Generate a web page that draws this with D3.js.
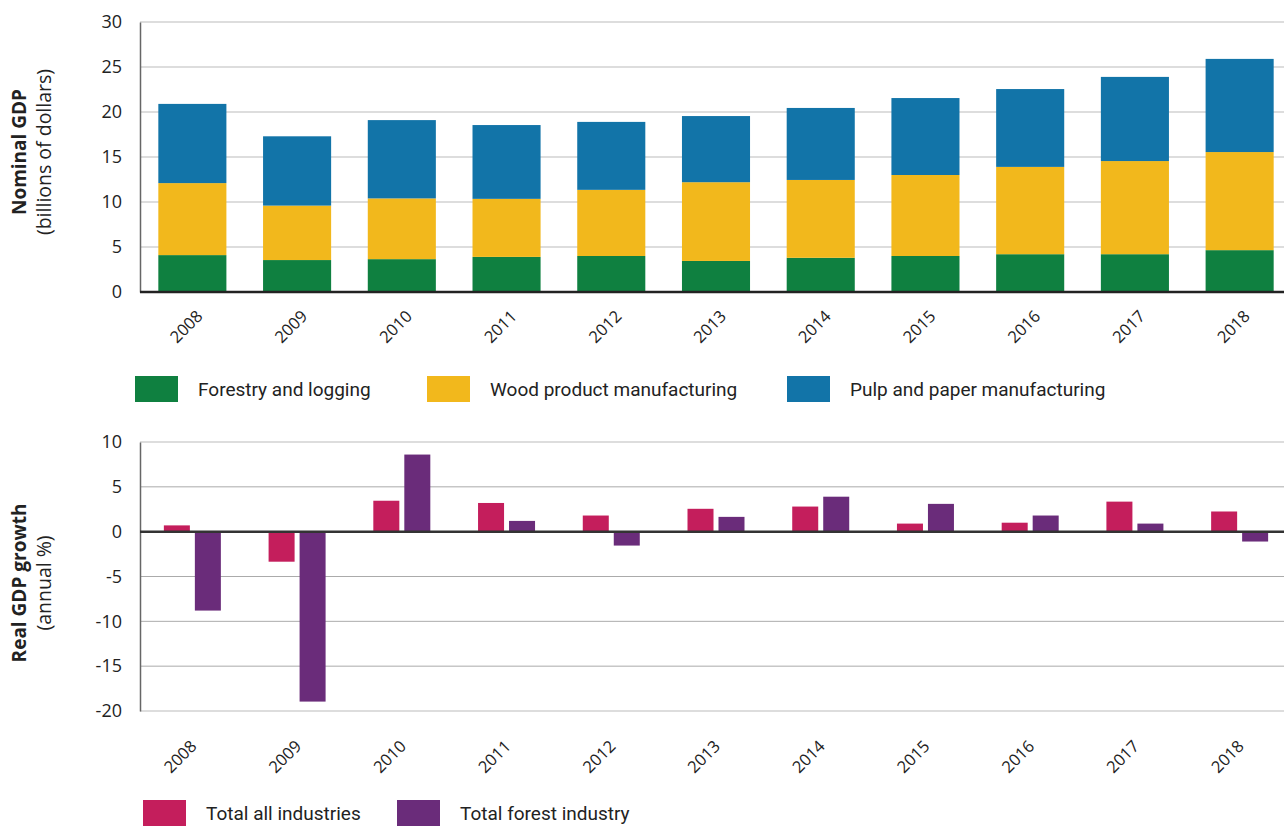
<!DOCTYPE html>
<html>
<head>
<meta charset="utf-8">
<script src="https://cdn.jsdelivr.net/npm/d3@7"></script>
<style>
  body { margin: 0; background: #fff; }
  svg { display: block; font-family: 'Open Sans', sans-serif; }
  .legend text { font-family: 'Roboto', sans-serif; }
</style>
</head>
<body>
<div id="chart"></div>
<script>
// years shared by both panels
const years = ['2008', '2009', '2010', '2011', '2012', '2013', '2014', '2015', '2016', '2017', '2018']

// nominal GDP, billions of dollars
const forestry = [4.1, 3.55, 3.65, 3.9, 4.0, 3.45, 3.8, 4.0, 4.2, 4.2, 4.65]
const woodProducts = [8.0, 6.05, 6.75, 6.45, 7.35, 8.75, 8.65, 9.0, 9.7, 10.35, 10.9]
const pulpPaper = [8.8, 7.7, 8.7, 8.2, 7.55, 7.35, 8.0, 8.55, 8.65, 9.35, 10.35]
const stackNames = ['Forestry and logging', 'Wood product manufacturing', 'Pulp and paper manufacturing']
const stackColors = ['#0f8040', '#f2b81c', '#1274a8']
const gdpTicks = [0, 5, 10, 15, 20, 25, 30]

// real GDP growth, annual %
const totalAll = [0.7, -3.35, 3.45, 3.2, 1.8, 2.55, 2.8, 0.9, 1.0, 3.35, 2.25]
const totalForest = [-8.8, -18.95, 8.6, 1.2, -1.55, 1.65, 3.9, 3.1, 1.8, 0.9, -1.1]
const growthNames = ['Total all industries', 'Total forest industry']
const growthColors = ['#c41e5c', '#6a2c7a']
const growthTicks = [-20, -15, -10, -5, 0, 5, 10]

const dimensions = {
  width: 1284,
  height: 827,
  left: 140,
  top: { y0: 22, y1: 292 },
  bottom: { y0: 442, y1: 711 }
}

const svg = d3.select('#chart').append('svg')
  .attr('width', dimensions.width)
  .attr('height', dimensions.height)

const xScale = d3.scaleBand()
  .domain(years)
  .range([dimensions.left, dimensions.left + 1152])
  .paddingInner(0.35)
  .paddingOuter(0.175)

// plain hyphen for negatives, like the original
const tickFormat = d => String(d).replace('\u2212', '-')

//
// top panel: stacked bars
//
const stackRows = years.map((y, i) => ({
  year: y,
  [stackNames[0]]: forestry[i],
  [stackNames[1]]: woodProducts[i],
  [stackNames[2]]: pulpPaper[i]
}))
const series = d3.stack().keys(stackNames)(stackRows)

const yTop = d3.scaleLinear()
  .domain([0, 30])
  .range([dimensions.top.y1, dimensions.top.y0])

svg.append('g')
  .selectAll('line')
  .data(gdpTicks.filter(d => d !== 0))
  .join('line')
  .attr('x1', dimensions.left)
  .attr('x2', dimensions.width)
  .attr('y1', d => yTop(d))
  .attr('y2', d => yTop(d))
  .attr('stroke', '#d2d2d2')
  .attr('stroke-width', 1.5)

svg.append('g')
  .selectAll('g')
  .data(series)
  .join('g')
  .attr('fill', (d, i) => stackColors[i])
  .selectAll('rect')
  .data(d => d)
  .join('rect')
  .attr('x', d => xScale(d.data.year))
  .attr('width', xScale.bandwidth())
  .attr('y', d => yTop(d[1]))
  .attr('height', d => yTop(d[0]) - yTop(d[1]))

const yAxisTop = svg.append('g')
  .attr('transform', `translate(${dimensions.left}, 0)`)
  .call(d3.axisLeft(yTop).tickValues(gdpTicks).tickFormat(tickFormat).tickSize(0).tickPadding(18))
yAxisTop.select('.domain').attr('stroke', '#666').attr('stroke-width', 1.5)

svg.append('line')
  .attr('x1', dimensions.left)
  .attr('x2', dimensions.width)
  .attr('y1', yTop(0))
  .attr('y2', yTop(0))
  .attr('stroke', '#222')
  .attr('stroke-width', 2.5)

svg.append('g')
  .selectAll('text')
  .data(years)
  .join('text')
  .attr('transform', d => `translate(${xScale(d) + xScale.bandwidth() / 2 + 3}, 309) rotate(-45)`)
  .attr('text-anchor', 'end')
  .attr('dy', '0.71em')
  .attr('font-size', 16.5)
  .attr('fill', '#222')
  .text(d => d)

//
// bottom panel: grouped bars
//
const yBottom = d3.scaleLinear()
  .domain([-20, 10])
  .range([dimensions.bottom.y1, dimensions.bottom.y0])

const xSub = d3.scaleBand()
  .domain(growthNames)
  .range([0, 57])
  .paddingInner(0.161)

svg.append('g')
  .selectAll('line')
  .data(growthTicks.filter(d => d !== 0))
  .join('line')
  .attr('x1', dimensions.left)
  .attr('x2', dimensions.width)
  .attr('y1', d => yBottom(d))
  .attr('y2', d => yBottom(d))
  .attr('stroke', d => (d === 10 || d === -20) ? '#d2d2d2' : '#ababab')
  .attr('stroke-width', d => (d === 10 || d === -20) ? 1.5 : 1)

const growthRows = years.map((y, i) => ({ year: y, values: [totalAll[i], totalForest[i]] }))

svg.append('g')
  .selectAll('g')
  .data(growthRows)
  .join('g')
  .attr('transform', d => `translate(${xScale(d.year) + xScale.bandwidth() / 2 - 28.5}, 0)`)
  .selectAll('rect')
  .data(d => d.values.map((v, j) => ({ key: growthNames[j], value: v, color: growthColors[j] })))
  .join('rect')
  .attr('x', d => xSub(d.key))
  .attr('width', xSub.bandwidth())
  .attr('y', d => yBottom(Math.max(0, d.value)))
  .attr('height', d => Math.abs(yBottom(d.value) - yBottom(0)))
  .attr('fill', d => d.color)

const yAxisBottom = svg.append('g')
  .attr('transform', `translate(${dimensions.left}, 0)`)
  .call(d3.axisLeft(yBottom).tickValues(growthTicks).tickFormat(tickFormat).tickSize(0).tickPadding(18))
yAxisBottom.select('.domain').attr('stroke', '#666').attr('stroke-width', 1.5)

svg.append('line')
  .attr('x1', dimensions.left)
  .attr('x2', dimensions.width)
  .attr('y1', yBottom(0))
  .attr('y2', yBottom(0))
  .attr('stroke', '#333')
  .attr('stroke-width', 2.5)

svg.append('g')
  .selectAll('text')
  .data(years)
  .join('text')
  .attr('transform', d => `translate(${xScale(d) + xScale.bandwidth() / 2 - 3}, 739) rotate(-45)`)
  .attr('text-anchor', 'end')
  .attr('dy', '0.71em')
  .attr('font-size', 16.5)
  .attr('fill', '#222')
  .text(d => d)

// axis tick label styling
svg.selectAll('.tick text')
  .attr('font-size', 18)
  .attr('font-family', "'Open Sans', sans-serif")
  .attr('fill', '#222')

//
// axis titles
//
function axisTitle (cx, cy, bold, light) {
  const g = svg.append('g')
    .attr('transform', `translate(${cx}, ${cy}) rotate(-90)`)
    .attr('text-anchor', 'middle')
    .attr('fill', '#222')
  g.append('text')
    .attr('y', 0)
    .attr('font-size', 19)
    .attr('font-weight', 'bold')
    .text(bold)
  g.append('text')
    .attr('y', 25)
    .attr('font-size', 19.5)
    .text(light)
}
axisTitle(26, 152, 'Nominal GDP', '(billions of dollars)')
axisTitle(26, 583, 'Real GDP growth', '(annual %)')

//
// legends
//
function legend (items, colors, y, positions) {
  const g = svg.append('g').attr('class', 'legend')
  const item = g.selectAll('g')
    .data(items)
    .join('g')
    .attr('transform', (d, i) => `translate(${positions[i]}, ${y})`)
  item.append('rect')
    .attr('width', 43)
    .attr('height', 26)
    .attr('fill', (d, i) => colors[i])
  item.append('text')
    .attr('x', 63)
    .attr('y', 20)
    .attr('font-size', 19)
    .attr('fill', '#222')
    .text(d => d)
}
legend(stackNames, stackColors, 376, [135, 427, 787])
legend(growthNames, growthColors, 800, [143, 397])
</script>
</body>
</html>
